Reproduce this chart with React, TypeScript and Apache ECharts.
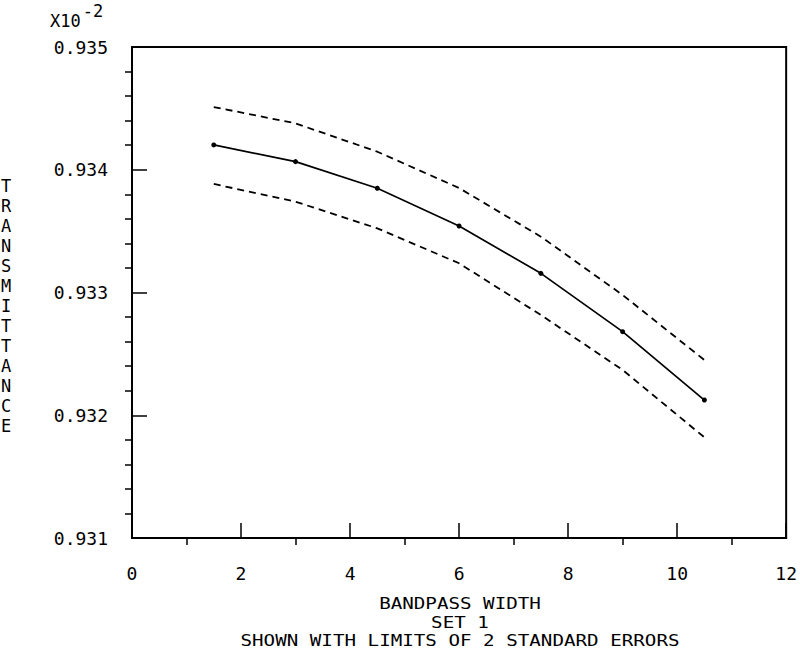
import React, { useEffect, useRef } from "react";
import * as echarts from "echarts";

const bandpass = [1.5, 3, 4.5, 6, 7.5, 9, 10.5];
const transmittance = [0.934202, 0.934066, 0.933849, 0.933542, 0.933156, 0.932681, 0.932124];
const upperLimit = [0.934511, 0.934378, 0.934147, 0.933851, 0.933455, 0.93298, 0.93245];
const lowerLimit = [0.933884, 0.93374, 0.933523, 0.933238, 0.932817, 0.932369, 0.93182];
const yTickLabels = ["0.931", "0.932", "0.933", "0.934", "0.935"];
const xTickLabels = ["0", "2", "4", "6", "8", "10", "12"];
const yTitle = "TRANSMITTANCE";
const xTitleLines = ["BANDPASS WIDTH", "SET 1", "SHOWN WITH LIMITS OF 2 STANDARD ERRORS"];

const FONT = "DejaVu Sans Mono";

export default function App() {
  const ref = useRef<HTMLDivElement>(null);
  useEffect(() => {
    if (!ref.current) return;
    const chart = echarts.init(ref.current, undefined, { renderer: "svg" });
    const pair = (xs: number[], ys: number[]) => xs.map((x, i) => [x, ys[i]]);
    const yMin = 0.931, yMax = 0.935;
    const yLabel = (v: number) => {
      const idx = Math.round((v - yMin) / 0.001);
      return yTickLabels[idx] ?? "";
    };
    const xLabel = (v: number) => {
      const idx = Math.round(v / 2);
      return xTickLabels[idx] ?? "";
    };
    chart.setOption({
      animation: false,
      backgroundColor: "#fff",
      grid: {
        left: 132,
        right: 12,
        top: 47,
        bottom: 115,
        show: true,
        borderColor: "#000",
        borderWidth: 2,
        backgroundColor: "transparent",
      },
      xAxis: [
        {
          type: "value",
          min: 0,
          max: 12,
          interval: 2,
          position: "bottom",
          axisLine: { show: true, lineStyle: { color: "#000", width: 2 } },
          axisTick: { show: true, inside: true, length: 15, lineStyle: { color: "#000", width: 1.5 } },
          splitLine: { show: false },
          axisLabel: {
            margin: 26,
            color: "#000",
            fontFamily: FONT,
            fontSize: 18,
            formatter: xLabel,
          },
        },
        {
          type: "value",
          min: 0,
          max: 12,
          interval: 2,
          position: "bottom",
          axisLine: { show: false },
          axisTick: { show: false, inside: false },
          minorTick: { show: true, splitNumber: 2, length: 7, lineStyle: { color: "#000", width: 1.5 } },
          splitLine: { show: false },
          axisLabel: { show: false },
        },
      ],
      yAxis: [
        {
          type: "value",
          min: yMin,
          max: yMax,
          interval: 0.001,
          position: "left",
          axisLine: { show: true, lineStyle: { color: "#000", width: 2 } },
          axisTick: { show: true, inside: true, length: 15, lineStyle: { color: "#000", width: 1.5 } },
          splitLine: { show: false },
          axisLabel: {
            margin: 24,
            color: "#000",
            fontFamily: FONT,
            fontSize: 18,
            formatter: yLabel,
          },
        },
        {
          type: "value",
          min: yMin,
          max: yMax,
          interval: 0.001,
          position: "left",
          axisLine: { show: false },
          axisTick: { show: false, inside: false },
          minorTick: { show: true, splitNumber: 5, length: 7, lineStyle: { color: "#000", width: 1.5 } },
          splitLine: { show: false },
          axisLabel: { show: false },
        },
      ],
      graphic: [
        {
          type: "text",
          left: 50,
          top: 2,
          style: {
            text: "{a|X10}{b|-2}",
            rich: {
              a: { fontFamily: FONT, fontSize: 17, fill: "#000", padding: [14, 0, 0, 0] },
              b: { fontFamily: FONT, fontSize: 17, fill: "#000", padding: [0, 0, 6, 2] },
            },
          },
        },
        {
          type: "text",
          left: 1,
          top: 176,
          style: {
            text: yTitle.split("").join("\n"),
            fontFamily: FONT,
            fontSize: 17,
            lineHeight: 20,
            fill: "#000",
            align: "center",
          },
        },
        ...xTitleLines.map((t, i) => ({
          type: "text",
          x: 460,
          y: [604, 622.5, 641][i],
          scaleX: 1.28,
          style: {
            text: t,
            fontFamily: FONT,
            fontSize: 15,
            lineHeight: 15,
            fill: "#000",
            align: "center",
            verticalAlign: "middle",
          },
        })),
      ],
      series: [
        {
          type: "line",
          data: pair(bandpass, transmittance),
          xAxisIndex: 0,
          yAxisIndex: 0,
          symbol: "circle",
          symbolSize: 5,
          itemStyle: { color: "#000" },
          lineStyle: { color: "#000", width: 1.7 },
        },
        {
          type: "line",
          data: pair(bandpass, upperLimit),
          xAxisIndex: 0,
          yAxisIndex: 0,
          symbol: "none",
          lineStyle: { color: "#000", width: 1.8, type: [7, 5] },
        },
        {
          type: "line",
          data: pair(bandpass, lowerLimit),
          xAxisIndex: 0,
          yAxisIndex: 0,
          symbol: "none",
          lineStyle: { color: "#000", width: 1.8, type: [7, 5] },
        },
      ],
    });
    return () => chart.dispose();
  }, []);
  return (
    <div
      ref={ref}
      style={{ position: "fixed", left: 0, top: 0, width: 800, height: 653, background: "#fff" }}
    />
  );
}
